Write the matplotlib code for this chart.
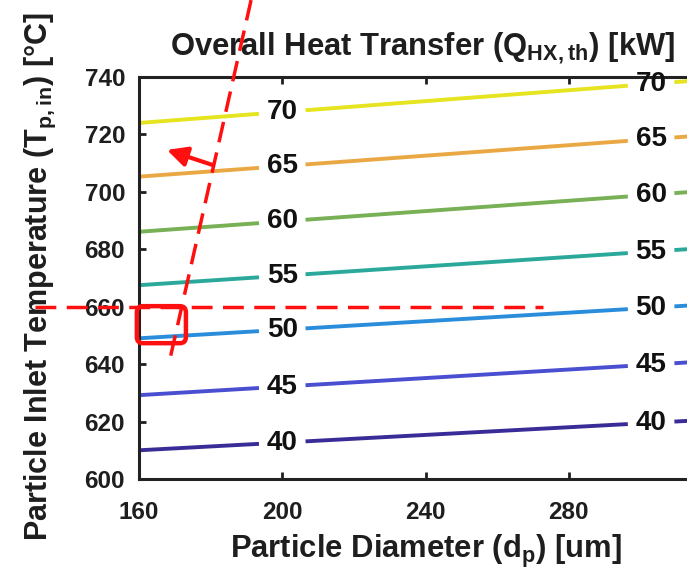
import matplotlib
matplotlib.use('Agg')
import matplotlib.pyplot as plt
import numpy as np
from matplotlib.patches import FancyBboxPatch

plt.rcParams['font.family'] = ['Liberation Sans', 'DejaVu Sans']
plt.rcParams['font.weight'] = 'bold'
plt.rcParams['mathtext.fontset'] = 'custom'
plt.rcParams['mathtext.rm'] = 'Liberation Sans:bold'
plt.rcParams['mathtext.bf'] = 'Liberation Sans:bold'
plt.rcParams['mathtext.default'] = 'bf'

# contour levels of Q_HX,th [kW] and where each line sits
levels = [40, 45, 50, 55, 60, 65, 70]
d_ends = [160, 320]                                           # particle diameter [um]
T_left = [610.0, 629.2, 649.0, 667.5, 686.1, 705.3, 724.0]    # T at d=160
T_right = [620.7, 641.1, 660.9, 680.6, 700.5, 719.9, 739.2]   # T at d=320
colors = ['#3a2c96', '#4a4ed0', '#2a8ddc', '#2aa89a', '#77b055', '#eaa844', '#e6e41e']
label_d = [200, 303]

x_ticks = [160, 200, 240, 280]
y_ticks = [600, 620, 640, 660, 680, 700, 720, 740]

# red guide marks drawn over the chart
slant_d = [191.3, 168.7]
slant_T = [766.8, 642.1]
horiz_d = [131, 272.8]
horiz_T = [660, 660]
box_d = [159.4, 173.1]
box_T = [647.3, 660.2]
arrow_from = (180.7, 709.3)
arrow_to = (167.8, 714.6)

fig = plt.figure(figsize=(6.87, 5.75), dpi=100)
ax = fig.add_axes([139/687, 96/575, 573/687, 402/575])
txt = '#1e1e1e'

gap = 6.5
for lev, tl, tr, c in zip(levels, T_left, T_right, colors):
    f = lambda d: np.interp(d, d_ends, [tl, tr])
    cuts = [d_ends[0]]
    for ld in label_d:
        cuts += [ld - gap, ld + gap]
    cuts.append(d_ends[1])
    for a, b in zip(cuts[::2], cuts[1::2]):
        ax.plot([a, b], [f(a), f(b)], color=c, lw=2.8, solid_capstyle='butt', zorder=2)
    for ld in label_d:
        ax.text(ld, f(ld), str(lev), ha='center', va='center', fontsize=20,
                fontweight='bold', color='#111111', zorder=3, clip_on=False)

ax.set_xlim(160, 320)
ax.set_ylim(600, 740)
ax.set_xticks(x_ticks)
ax.set_yticks(y_ticks)
ax.tick_params(direction='in', length=5, width=2, labelsize=17.5, colors=txt,
               top=True, right=True)
ax.tick_params(axis='x', pad=16)
ax.tick_params(axis='y', pad=10)
for lab in ax.get_xticklabels() + ax.get_yticklabels():
    lab.set_fontweight('bold')
for s in ax.spines.values():
    s.set_linewidth(2.2)
    s.set_color('#222222')

tf = fig.transFigure
ax.text(423/687, 1 - 55/575, r'Overall Heat Transfer (Q$_{HX,th}$) [kW]',
        transform=tf, ha='center', va='baseline', fontsize=22.3, color=txt, clip_on=False)
ax.text(426/687, 1 - 558/575, r'Particle Diameter (d$_{p}$) [um]',
        transform=tf, ha='center', va='baseline', fontsize=22.3, color=txt, clip_on=False)
ax.text(40/687, 1 - 277/575, r'Particle Inlet Temperature (T$_{p,in}$) [°C]',
        transform=tf, ha='center', va='center', rotation=90, fontsize=22,
        color=txt, clip_on=False)

red = '#ff1010'
ax.plot(slant_d, slant_T, color=red, lw=2.5, ls=(0, (6, 3)), clip_on=False, zorder=10)
ax.plot(horiz_d, horiz_T, color=red, lw=2.5, ls=(0, (6, 3)), clip_on=False, zorder=10)
ax.add_patch(FancyBboxPatch((box_d[0], box_T[0]), box_d[1] - box_d[0], box_T[1] - box_T[0],
                            boxstyle='round,pad=0,rounding_size=1.7', mutation_aspect=1.25,
                            fill=False, ec=red, lw=3.2, clip_on=False, zorder=10))
ax.annotate('', xy=arrow_to, xytext=arrow_from,
            arrowprops=dict(arrowstyle='-|>,head_length=0.6,head_width=0.3',
                            color=red, lw=3, mutation_scale=20, shrinkA=0, shrinkB=0),
            zorder=10, annotation_clip=False)

fig.savefig('out.png', dpi=100)
